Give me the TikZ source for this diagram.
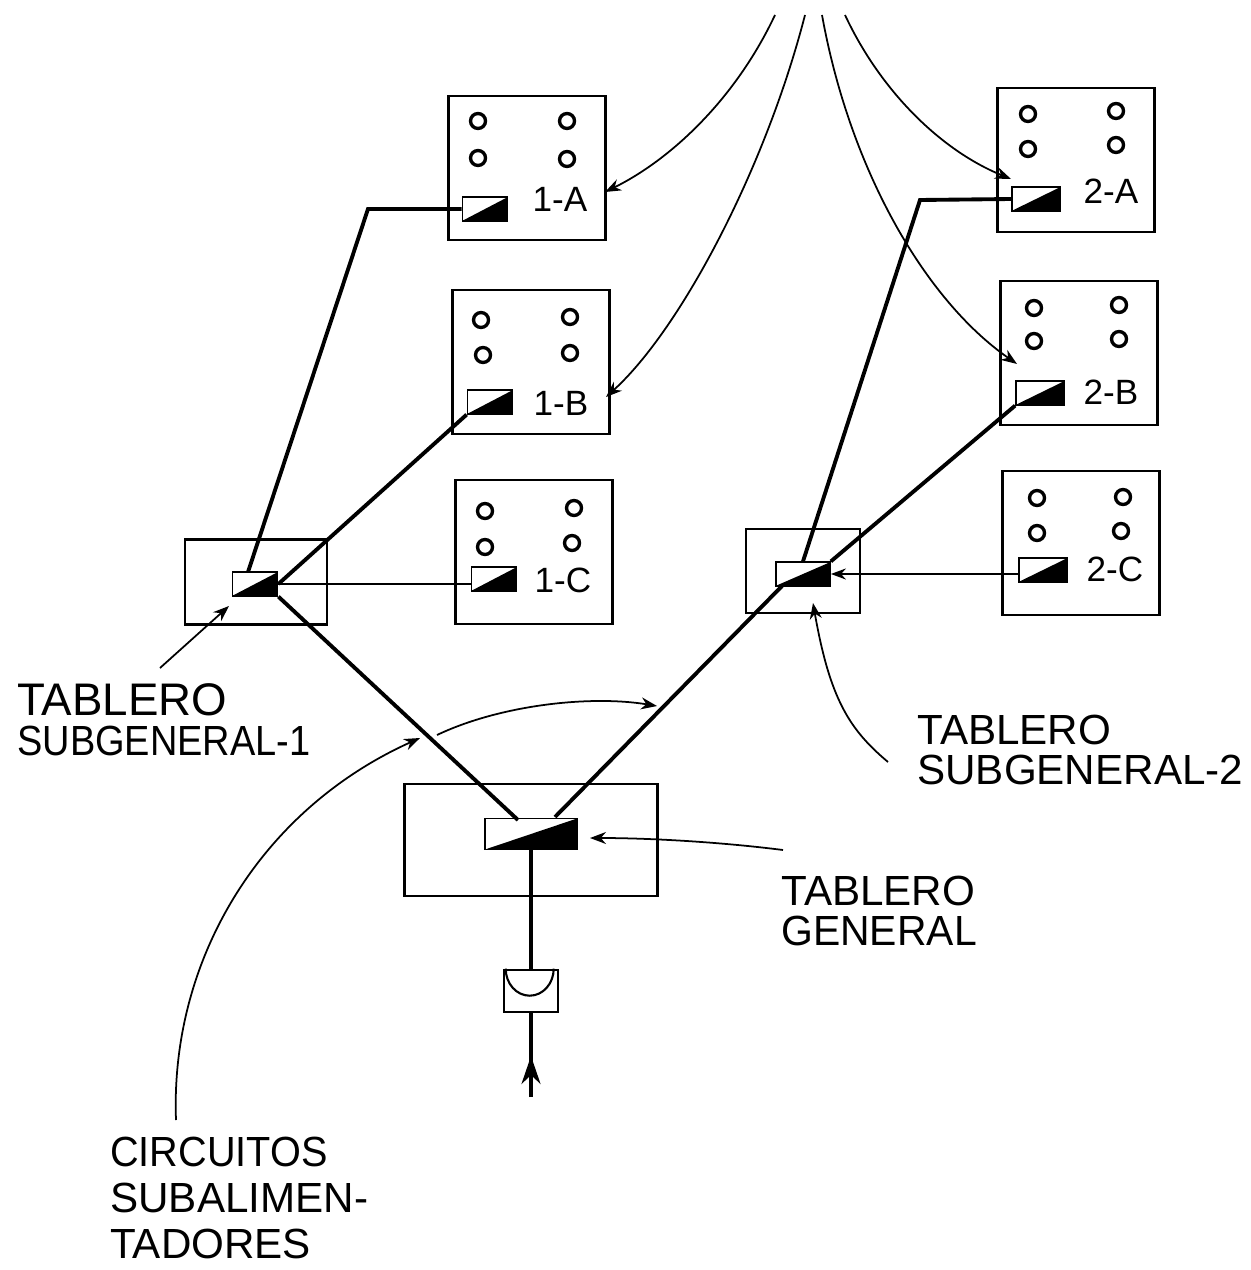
\documentclass[tikz,border=0pt]{standalone}
\usepackage{fontspec}
\usepackage{graphicx}
\setmainfont{Liberation Sans}
\usetikzlibrary{arrows.meta}
\tikzset{
	panel/.style = {draw, line width = 1.3pt, minimum width = 3.14cm, minimum height = 2.88cm},
	breaker/.style = {draw, line width = 1pt, inner sep = 0pt, minimum width = 0.9cm, minimum height = 0.47cm,
		path picture = {\fill (path picture bounding box.south west) -- (path picture bounding box.north east) -- (path picture bounding box.south east) -- cycle;}},
	feeder/.style = {line width = 2.2pt},
	thinwire/.style = {line width = 1.2pt},
	pointer/.style = {line width = 1pt, -{Stealth[length = 0.32cm, width = 0.24cm]}},
	lamp/.style = {line width = 1.9pt},
	caption/.style = {inner sep = 0pt, anchor = west, align = left, font = \fontsize{24}{23}\selectfont},
	panellabel/.style = {inner sep = 0pt, font = \fontsize{20}{24}\selectfont}
}
\begin{document}
\begin{tikzpicture}[x = 0.02cm, y = -0.02cm]
			\useasboundingbox (0, 0) rectangle (1250, 1270);

			% tableros
			\node[panel] (tablero1a) at (527, 168) {};
\node[panel] (tablero1b) at (531, 362) {};
\node[panel] (tablero1c) at (534, 552) {};
\node[panel] (tablero2a) at (1076, 160) {};
\node[panel] (tablero2b) at (1079, 353) {};
\node[panel] (tablero2c) at (1081, 543) {};
\node[draw, line width = 1.2pt, minimum width = 2.84cm, minimum height = 1.7cm] (subgeneral1) at (256, 582) {};
\node[draw, line width = 1.2pt, minimum width = 2.28cm, minimum height = 1.68cm] (subgeneral2) at (803, 571) {};
\node[draw, line width = 1.3pt, minimum width = 5.06cm, minimum height = 2.24cm] (general) at (531, 840) {};

			% interruptores
			\node[breaker] (int1a) at (485, 209) {};
\node[breaker] (int1b) at (490, 402) {};
\node[breaker] (int1c) at (494, 579) {};
\node[breaker, minimum width = 0.96cm] (int2a) at (1036, 199) {};
\node[breaker, minimum width = 0.96cm] (int2b) at (1040, 393) {};
\node[breaker, minimum width = 0.96cm] (int2c) at (1043, 570) {};
\node[breaker] (intsub1) at (255, 584) {};
\node[breaker, minimum width = 1.08cm] (intsub2) at (803, 574) {};
\node[breaker, minimum width = 1.84cm, minimum height = 0.62cm] (intgeneral) at (531, 834) {};

			% lamparas
			\draw[lamp] (478, 121) circle (0.15cm);
\draw[lamp] (567, 121) circle (0.15cm);
\draw[lamp] (478, 158) circle (0.15cm);
\draw[lamp] (567, 159) circle (0.15cm);
\draw[lamp] (481, 320) circle (0.15cm);
\draw[lamp] (570, 317) circle (0.15cm);
\draw[lamp] (483, 355) circle (0.15cm);
\draw[lamp] (570, 353) circle (0.15cm);
\draw[lamp] (485, 511) circle (0.15cm);
\draw[lamp] (574, 508) circle (0.15cm);
\draw[lamp] (485, 547) circle (0.15cm);
\draw[lamp] (572, 543) circle (0.15cm);
\draw[lamp] (1028, 114) circle (0.15cm);
\draw[lamp] (1116, 111) circle (0.15cm);
\draw[lamp] (1028, 149) circle (0.15cm);
\draw[lamp] (1116, 145) circle (0.15cm);
\draw[lamp] (1034, 308) circle (0.15cm);
\draw[lamp] (1119, 305) circle (0.15cm);
\draw[lamp] (1034, 341) circle (0.15cm);
\draw[lamp] (1119, 339) circle (0.15cm);
\draw[lamp] (1037, 498) circle (0.15cm);
\draw[lamp] (1123, 497) circle (0.15cm);
\draw[lamp] (1037, 533) circle (0.15cm);
\draw[lamp] (1121, 531) circle (0.15cm);

			\node[panellabel] (label1a) at (560, 199) {1-A};
\node[panellabel] (label1b) at (561, 403) {1-B};
\node[panellabel] (label1c) at (563, 580) {1-C};
\node[panellabel] (label2a) at (1111, 191) {2-A};
\node[panellabel] (label2b) at (1111, 392) {2-B};
\node[panellabel] (label2c) at (1115, 569) {2-C};

			% alimentadores
			\coordinate (corner1a) at (368, 209);
\coordinate (corner2a) at (920, 200);
\coordinate (salida1) at (248, 572);
\coordinate (entrada1) at (518, 820);
\coordinate (entrada2) at (555, 817);
\coordinate (salida2) at (782, 586);
\coordinate (entrada1c) at (472, 584);
\coordinate (salida2c) at (1019, 574);
\draw[feeder] (salida1) -- (corner1a) -- (int1a.west);
\draw[feeder] (intsub1.east) -- (int1b.south west);
\draw[thinwire] (intsub1.east) -- (entrada1c);
\draw[feeder] (intsub1.south east) -- (entrada1);
\draw[feeder] (salida2) -- (entrada2);
\draw[feeder] (intsub2.north) -- (corner2a) -- (int2a.west);
\draw[feeder] (intsub2.north east) -- (int2b.south west);
\draw[thinwire, -{Stealth[length = 0.3cm, width = 0.22cm]}] (salida2c) -- (intsub2.east);

			% acometida
			\node[draw, line width = 1.5pt, minimum width = 1.08cm, minimum height = 0.84cm, inner sep = 0pt] (medidor) at (531, 991) {};
\draw[thinwire] (medidor.north west) ++(3, 0) arc[start angle = 180, end angle = 0, x radius = 24, y radius = 27];
\draw[line width = 2pt] (intgeneral.south) -- (medidor.north);
\coordinate (acometida) at (531, 1097);
\coordinate (puntaacometida) at (531, 1056);
\draw[line width = 2pt] (medidor.south) -- (acometida);
\draw[line width = 2pt, -{Stealth[length = 0.56cm, width = 0.38cm]}] (acometida) -- (puntaacometida);

			% textos
			\node[caption] (textosub1) at (17, 720) {\fontsize{26}{21}\selectfont TABLERO\\\scalebox{0.9}[1]{SUBGENERAL-1}};
\node[caption] (textosub2) at (917, 750) {TABLERO\\SUBGENERAL-2};
\node[caption] (textogeneral) at (781, 911) {TABLERO\\\scalebox{0.97}[1]{GENERAL}};
\node[caption, font = \fontsize{24}{26}\selectfont] (textocircuitos) at (110, 1198) {\scalebox{0.94}[1]{CIRCUITOS}\\SUBALIMEN-\\TADORES};

			% flechas
			\coordinate (top1a) at (775, 15);
\coordinate (top1b) at (805, 15);
\coordinate (top2b) at (822, 15);
\coordinate (top2a) at (845, 15);
\coordinate (tip1a) at (605, 192);
\coordinate (tip1b) at (606, 397);
\coordinate (tip2a) at (1011, 179);
\coordinate (tip2b) at (1017, 364);
\draw[pointer] (top1a) .. controls (735, 100) and (670, 160) .. (tip1a);
\draw[pointer] (top1b) .. controls (765, 170) and (680, 330) .. (tip1b);
\draw[pointer] (top2b) .. controls (850, 170) and (925, 300) .. (tip2b);
\draw[pointer] (top2a) .. controls (880, 90) and (940, 150) .. (tip2a);

			\coordinate (startsub1) at (160, 668);
\coordinate (tipsub1) at (229, 606);
\draw[pointer] (startsub1) -- (tipsub1);
\coordinate (startsub2) at (888, 762);
\coordinate (tipsub2) at (813, 603);
\draw[pointer] (startsub2) .. controls (850, 730) and (830, 700) .. (tipsub2);
\coordinate (startgeneral) at (783, 850);
\coordinate (tipgeneral) at (590, 838);
\draw[pointer] (startgeneral) .. controls (720, 842) and (650, 838) .. (tipgeneral);
\coordinate (startcircuitos) at (176, 1120);
\coordinate (tipcircuitos1) at (420, 738);
\coordinate (startcircuitos2) at (437, 735);
\coordinate (tipcircuitos2) at (657, 706);
\draw[pointer] (startcircuitos) .. controls (170, 960) and (260, 810) .. (tipcircuitos1);
\draw[pointer] (startcircuitos2) .. controls (500, 705) and (590, 695) .. (tipcircuitos2);
\end{tikzpicture}
\end{document}
